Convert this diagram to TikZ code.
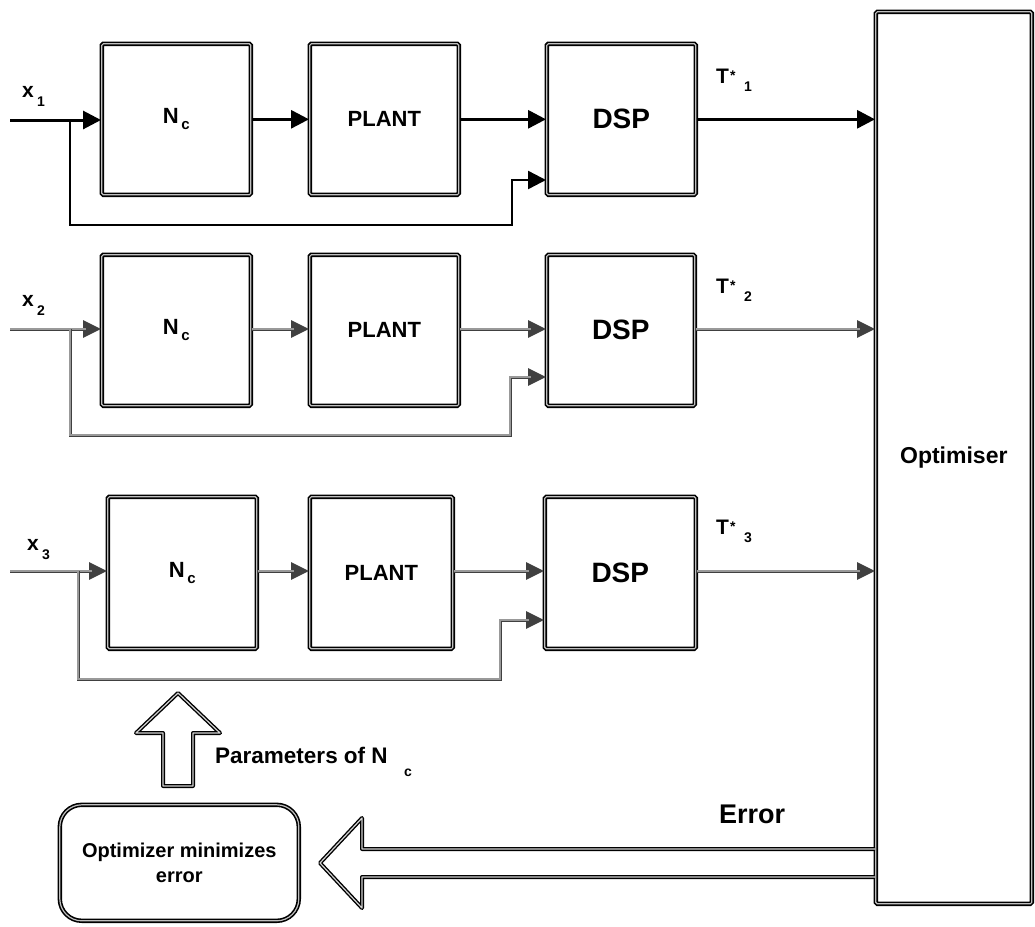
\documentclass[tikz,border=0pt]{standalone}
\usepackage{fontspec}
\setmainfont{Liberation Sans}
\usetikzlibrary{arrows.meta}
\definecolor{lineg}{gray}{0.25}
\definecolor{innerg}{gray}{0.6}
\begin{document}
\begin{tikzpicture}[x=1pt,y=-1pt,
  blk/.style={draw=black, line width=1.6pt, double=gray!50, double distance=1.2pt,
    rounded corners=1.5pt, inner sep=0pt, anchor=north west, font=\bfseries},
  outline/.style={draw=black, line width=1.4pt, double=gray!35, double distance=1.2pt, line join=round},
  rowone/.style={line width=3pt, -{Triangle[length=18pt,width=18pt]}},
  rowtwo/.style={line width=3pt, draw=lineg, -{Triangle[length=18pt,width=17pt]},
    postaction={draw=innerg, line width=1.1pt, -, shorten >=15pt}},
  lab/.style={anchor=base west, inner sep=0pt, font=\bfseries\fontsize{21}{21}\selectfont},
  sublab/.style={anchor=base west, inner sep=0pt, font=\bfseries\fontsize{14}{14}\selectfont}
]
\useasboundingbox (0,0) rectangle (1035,926);

% ---------- boxes ----------
\newcommand{\ncl}{\fontsize{22}{22}\selectfont N\raisebox{-6pt}{\fontsize{15}{15}\selectfont\,c}}
\newcommand{\plantl}{\fontsize{22}{22}\selectfont PLANT}
\newcommand{\dspl}{\fontsize{28}{28}\selectfont DSP}

\node[blk, minimum width=149pt, minimum height=151pt] (nc1) at (101,43) {\ncl};
\node[blk, minimum width=149pt, minimum height=151pt] (p1) at (309,43) {\plantl};
\node[blk, minimum width=149pt, minimum height=151pt] (d1) at (546,43) {\dspl};

\node[blk, minimum width=149pt, minimum height=151pt] (nc2) at (101,254) {\ncl};
\node[blk, minimum width=149pt, minimum height=151pt] (p2) at (309,254) {\plantl};
\node[blk, minimum width=148pt, minimum height=151pt] (d2) at (546,254) {\dspl};

\node[blk, minimum width=149pt, minimum height=152pt] (nc3) at (107,496) {\ncl};
\node[blk, minimum width=143pt, minimum height=152pt] (p3) at (309,496) {\plantl};
\node[blk, minimum width=151pt, minimum height=152pt] (d3) at (544,496) {\dspl};

\node[blk, minimum width=156pt, minimum height=892pt] (opt) at (875,11)
  {\fontsize{23}{23}\selectfont Optimiser};

\node[blk, rounded corners=22pt, minimum width=239pt, minimum height=116pt, align=center,
  font=\bfseries\fontsize{20}{25}\selectfont] (omin) at (59,804)
  {Optimizer minimizes\\error};

% ---------- row 1 ----------
\coordinate (in1) at (10,120);
\coordinate (b1) at (70,120);
\coordinate (c1) at (70,225);
\coordinate (e1) at (512,225);
\coordinate (g1) at (512,180);
\draw[rowone] (in1) -- (nc1.west |- in1);
\draw[rowone] (nc1.east) -- (p1.west);
\draw[rowone] (p1.east) -- (d1.west);
\draw[rowone] (d1.east) -- (opt.west |- d1.east);
\draw[rowone, line width=2.4pt] (b1) -- (c1) -- (e1) -- (g1) -- (d1.west |- g1);

% ---------- row 2 ----------
\coordinate (in2) at (10,329);
\coordinate (b2) at (70,329);
\coordinate (c2) at (70,435);
\coordinate (e2) at (510,435);
\coordinate (g2) at (510,377);
\draw[rowtwo] (in2) -- (nc2.west |- in2);
\draw[rowtwo] (nc2.east |- in2) -- (p2.west |- in2);
\draw[rowtwo] (p2.east |- in2) -- (d2.west |- in2);
\draw[rowtwo] (d2.east |- in2) -- (opt.west |- in2);
\draw[rowtwo] (b2) -- (c2) -- (e2) -- (g2) -- (d2.west |- g2);

% ---------- row 3 ----------
\coordinate (in3) at (10,571);
\coordinate (b3) at (78,571);
\coordinate (c3) at (78,679);
\coordinate (e3) at (500,679);
\coordinate (g3) at (500,620);
\draw[rowtwo] (in3) -- (nc3.west |- in3);
\draw[rowtwo] (nc3.east |- in3) -- (p3.west |- in3);
\draw[rowtwo] (p3.east |- in3) -- (d3.west |- in3);
\draw[rowtwo] (d3.east |- in3) -- (opt.west |- in3);
\draw[rowtwo] (b3) -- (c3) -- (e3) -- (g3) -- (d3.west |- g3);

% ---------- labels ----------
\node[lab] (x1) at (22,97) {x};
\node[sublab] (x1s) at (37,106) {1};
\node[lab] (x2) at (22,306) {x};
\node[sublab] (x2s) at (37,315) {2};
\node[lab] (x3) at (27,550) {x};
\node[sublab] (x3s) at (42,559) {3};

\node[lab] (t1) at (716,83) {T};
\node[sublab] (t1a) at (730,80) {*};
\node[sublab] (t1s) at (744,91) {1};
\node[lab] (t2) at (716,293) {T};
\node[sublab] (t2a) at (730,290) {*};
\node[sublab] (t2s) at (744,301) {2};
\node[lab] (t3) at (716,534) {T};
\node[sublab] (t3a) at (730,531) {*};
\node[sublab] (t3s) at (744,542) {3};

% ---------- parameters arrow ----------
\draw[outline] (163,786) -- (163,733) -- (136,733) -- (178,693) -- (220,733) -- (193,733) -- (193,786) -- cycle;
\node[anchor=base west, inner sep=0pt, font=\bfseries\fontsize{22.5}{22.5}\selectfont] (par) at (215,763) {Parameters of N};
\node[sublab] (pars) at (404,776) {c};

% ---------- error arrow ----------
\draw[outline] (opt.west |- 0,849) -- (362,849) -- (362,818) -- (320,863) -- (362,908) -- (362,877) -- (opt.west |- 0,877);
\node[anchor=base west, inner sep=0pt, font=\bfseries\fontsize{27}{27}\selectfont] (err) at (719,823) {Error};

\end{tikzpicture}
\end{document}
